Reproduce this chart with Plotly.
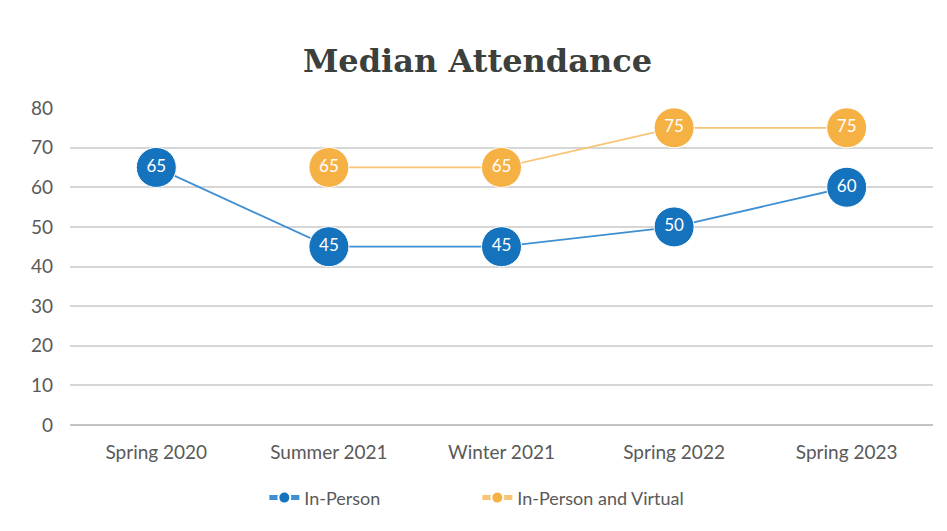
import plotly.graph_objects as go

# Datos
terms = ["Spring 2020", "Summer 2021", "Winter 2021", "Spring 2022", "Spring 2023"]
in_person = [65, 45, 45, 50, 60]
hybrid_terms = ["Summer 2021", "Winter 2021", "Spring 2022", "Spring 2023"]
hybrid = [65, 65, 75, 75]
y_ticks = [0, 10, 20, 30, 40, 50, 60, 70, 80]

BLUE = "#1572bd"
BLUE_LINE = "#3f8fd2"
ORANGE = "#f6b145"
ORANGE_LINE = "#f8c475"
GRID = "#d6d6d6"
TEXT = "#595959"

fig = go.Figure()
fig.add_trace(go.Scatter(
    x=terms, y=in_person, name="In-Person",
    mode="lines+markers+text",
    line=dict(color=BLUE_LINE, width=1.8),
    marker=dict(size=40, color=BLUE, line=dict(color="white", width=1)),
    text=[str(v) for v in in_person], textposition="middle center",
    textfont=dict(family="Lato, sans-serif", size=17, color="white"),
))
fig.add_trace(go.Scatter(
    x=hybrid_terms, y=hybrid, name="In-Person and Virtual",
    mode="lines+markers+text",
    line=dict(color=ORANGE_LINE, width=1.8),
    marker=dict(size=40, color=ORANGE, line=dict(color="white", width=1)),
    text=[str(v) for v in hybrid], textposition="middle center",
    textfont=dict(family="Lato, sans-serif", size=17, color="white"),
))

fig.update_layout(
    width=939, height=523,
    paper_bgcolor="white", plot_bgcolor="white",
    margin=dict(l=62, r=14, t=100, b=106),
    title=dict(text="<b>Median Attendance</b>", x=0.5, xanchor="center",
               y=0.90, yanchor="middle",
               font=dict(family="DejaVu Serif, serif", size=32, color="#3b403d")),
    font=dict(family="Lato, sans-serif", size=19, color=TEXT),
    xaxis=dict(categoryorder="array", categoryarray=terms, range=[-0.5, 4.5],
               showgrid=False, showline=False, zeroline=False, ticks="",
               ticklabelstandoff=14),
    yaxis=dict(range=[0, 80], tickvals=y_ticks, showgrid=True, gridcolor=GRID,
               gridwidth=2, zeroline=True, zerolinecolor="#c4c4c4",
               zerolinewidth=2, showline=False, ticks="", ticklabelstandoff=16),
    legend=dict(orientation="h", x=0.472, xanchor="center", y=-0.23, yanchor="middle",
                itemsizing="constant", font=dict(size=18, color=TEXT),
                entrywidth=168, entrywidthmode="pixels"),
    showlegend=True,
)

fig.write_html("out.html")
